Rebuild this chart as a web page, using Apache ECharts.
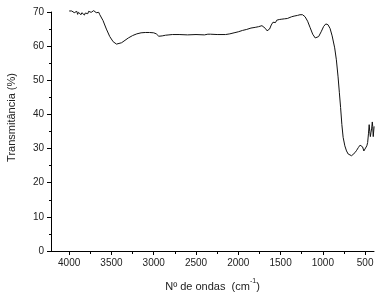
<!DOCTYPE html>
<html>
<head>
<meta charset="utf-8">
<script src="https://cdn.jsdelivr.net/npm/echarts@6/dist/echarts.min.js"></script>
<style>
  html, body { margin: 0; padding: 0; background: #fff; }
  #chart { width: 382px; height: 293px; }
</style>
</head>
<body>
<div id="chart"></div>
<script>
// FTIR spectrum
const waveNumbers = [
  4000, 3990, 3980, 3970, 3960, 3950, 3940, 3930, 3920, 3910, 3900, 3890, 3880, 3870, 3860, 3850, 3840, 3830, 3820,
  3810, 3800, 3790, 3780, 3770, 3760, 3750, 3740, 3730, 3720, 3710, 3700, 3690, 3680, 3670, 3660, 3650, 3640,
  3600, 3560, 3520, 3480, 3440, 3420, 3380, 3340, 3300, 3250, 3200, 3150, 3100, 3050, 3000, 2970, 2940, 2920, 2900,
  2880, 2860, 2820, 2780, 2700, 2600, 2500, 2400, 2360, 2345, 2330, 2250, 2150, 2100, 2050, 2000, 1950, 1900, 1850,
  1800, 1760, 1720, 1700, 1680, 1660, 1645, 1630, 1610, 1590, 1575, 1560, 1545, 1530, 1515, 1500, 1485, 1470, 1455,
  1440, 1420, 1400, 1370, 1340, 1300, 1270, 1240, 1210, 1180, 1150, 1120, 1090, 1075, 1050, 1020, 990, 965, 940, 915,
  890, 860, 840, 820, 805, 790, 775, 760, 740, 720, 700, 680, 660, 640, 620, 600, 580, 560, 545, 530, 515, 505, 495,
  480, 470, 460, 452, 445, 438, 430, 422, 415, 410, 404, 398, 394
]
const transmittance = [
  70.3, 70.2, 70.1, 70.3, 69.9, 70.4, 69.8, 70.1, 69.6, 70.2, 69.3, 69.9, 69.5, 70.1, 69.2, 69.8, 69.4, 69.9, 69.1,
  69.7, 69.3, 69.9, 69.5, 70.2, 69.7, 70.4, 69.9, 70.3, 69.8, 70.4, 70.0, 70.3, 69.8, 70.1, 69.7, 69.9, 69.3,
  67.5, 65.0, 62.8, 61.3, 60.6, 60.5, 61.0, 61.7, 62.4, 63.1, 63.6, 63.9, 64.0, 64.0, 63.9, 63.6, 62.9, 62.6, 63.0,
  62.8, 63.2, 63.3, 63.4, 63.4, 63.3, 63.4, 63.3, 63.5, 63.1, 63.5, 63.4, 63.4, 63.6, 63.9, 64.2, 64.6, 64.9, 65.3,
  65.5, 65.7, 66.0, 65.8, 65.2, 64.5, 64.2, 65.0, 66.2, 67.0, 67.4, 66.9, 67.6, 67.1, 67.8, 67.3, 67.9, 67.4, 68.0,
  67.6, 68.1, 68.3, 68.6, 68.8, 69.0, 69.2, 69.2, 68.6, 67.3, 65.4, 63.5, 62.4, 62.2, 62.8, 64.2, 65.8, 66.5, 66.3, 65.2,
  63.0, 59.5, 56.0, 51.0, 46.5, 42.0, 37.0, 33.3, 30.8, 29.3, 28.4, 28.0, 27.9, 28.2, 28.8, 29.5, 30.3, 31.0, 31.2,
  30.5, 29.3, 29.0, 29.6, 30.8, 31.8, 34.5, 37.0, 35.0, 33.5, 34.8, 36.0, 37.8, 36.5, 33.5, 33.0, 36.5
]
const xMajorTicks = [500, 1000, 1500, 2000, 2500, 3000, 3500, 4000]
const xMinorTicks = [750, 1250, 1750, 2250, 2750, 3250, 3750]

const textColor = '#222'
const axisColor = '#000'
const font = 'Liberation Sans, Arial, sans-serif'

const chart = echarts.init(document.getElementById('chart'))

const xBase = {
  type: 'value',
  min: 395,
  max: 4215,
  inverse: true,
  position: 'bottom',
  splitLine: { show: false }
}

chart.setOption({
  animation: false,
  grid: { left: 51, right: 8, top: 12, bottom: 42, outerBoundsMode: 'none' },
  xAxis: [
    {
      ...xBase,
      name: '{n|Nº de ondas  (cm}{sup|-1}{n|)}',
      nameLocation: 'middle',
      nameGap: 27,
      nameTextStyle: {
        color: textColor,
        fontFamily: font,
        fontSize: 11,
        rich: {
          n: { fontSize: 11, fontFamily: font, color: textColor, lineHeight: 18 },
          sup: { fontSize: 7, fontFamily: font, color: textColor, lineHeight: 18, verticalAlign: 'top' }
        }
      },
      axisLine: { show: true, lineStyle: { color: axisColor, width: 1 } },
      axisTick: { show: true, length: 4, customValues: xMajorTicks, lineStyle: { color: axisColor } },
      axisLabel: {
        customValues: xMajorTicks,
        formatter: v => String(v),
        margin: 7, color: textColor, fontFamily: font, fontSize: 10
      }
    },
    {
      ...xBase,
      axisLine: { show: false },
      axisTick: { show: true, length: 3, customValues: xMinorTicks, lineStyle: { color: axisColor } },
      axisLabel: { show: false }
    }
  ],
  yAxis: {
    type: 'value',
    min: 0,
    max: 70,
    interval: 10,
    name: 'Transmitância (%)',
    nameLocation: 'middle',
    nameGap: 34,
    nameTextStyle: { color: textColor, fontFamily: font, fontSize: 11, padding: [0, 0, 0, 28] },
    splitLine: { show: false },
    axisLine: { show: true, lineStyle: { color: axisColor, width: 1 } },
    axisTick: { show: true, length: 4, lineStyle: { color: axisColor } },
    minorTick: { show: true, splitNumber: 2, length: 2, lineStyle: { color: axisColor } },
    axisLabel: { margin: 7, color: textColor, fontFamily: font, fontSize: 10 }
  },
  series: [
    {
      type: 'line',
      xAxisIndex: 0,
      data: waveNumbers.map((w, i) => [w, transmittance[i]]),
      showSymbol: false,
      smooth: false,
      lineStyle: { color: '#111', width: 1 },
      clip: false
    }
  ]
})
</script>
</body>
</html>
